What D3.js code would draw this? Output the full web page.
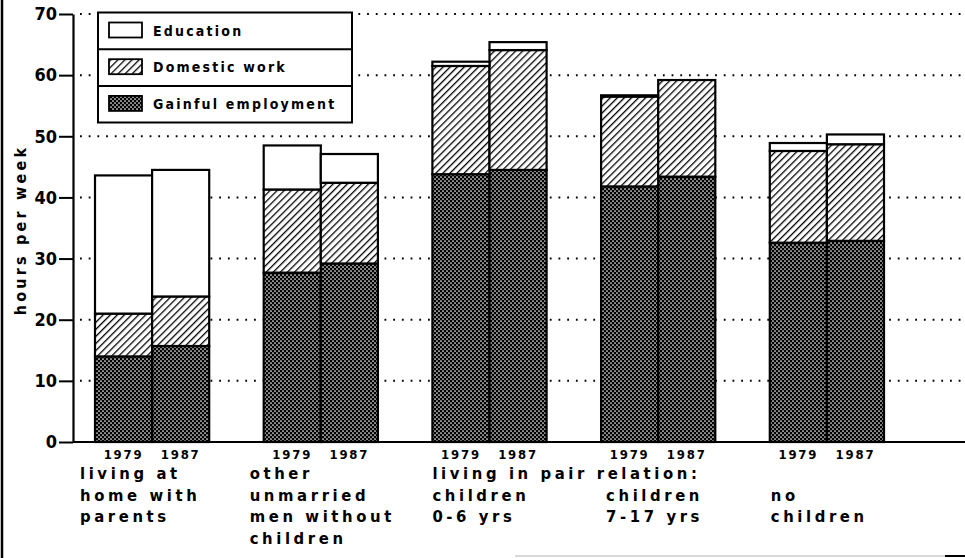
<!DOCTYPE html>
<html>
<head>
<meta charset="utf-8">
<script src="https://cdn.jsdelivr.net/npm/d3@7"></script>
<style>
  body { margin: 0; background: #fff; }
  svg text { font-family: "DejaVu Sans Condensed", "DejaVu Sans", sans-serif; font-weight: bold; fill: #000; }
</style>
</head>
<body>
<svg id="chart" width="965" height="558"></svg>
<script>
// data (hours per week)
const groups = ["home", "unmarried", "pair06", "pair717", "pairNone"];
const years = ["1979", "1987"];
const series = ["Gainful employment", "Domestic work", "Education"];

const gainful = [[14.0, 15.7], [27.7, 29.2], [43.8, 44.5], [41.8, 43.4], [32.6, 32.9]];
const domestic = [[7.0, 8.1], [13.6, 13.2], [17.7, 19.6], [14.7, 15.8], [15.0, 15.8]];
const education = [[22.6, 20.7], [7.2, 4.7], [0.7, 1.3], [0.2, 0.0], [1.3, 1.6]];

const groupLabels = [
  ["living at", "home with", "parents"],
  ["other", "unmarried", "men without", "children"],
  ["living in pair relation:", "children", "0-6 yrs"],
  ["", "children", "7-17 yrs"],
  ["", "no", "children"]
];
const yTicks = [0, 10, 20, 30, 40, 50, 60, 70];

const svg = d3.select("#chart");
const W = 965, H = 558;

// patterns
const defs = svg.append("defs");
const hatch = defs.append("pattern")
  .attr("id", "hatch").attr("patternUnits", "userSpaceOnUse")
  .attr("width", 5).attr("height", 5)
  .attr("patternTransform", "rotate(45)");
hatch.append("rect").attr("width", 5).attr("height", 5).attr("fill", "#fff");
hatch.append("line").attr("x1", 0).attr("y1", 0).attr("x2", 0).attr("y2", 5)
  .attr("stroke", "#000").attr("stroke-width", 2.6);

const cross = defs.append("pattern")
  .attr("id", "cross").attr("patternUnits", "userSpaceOnUse")
  .attr("width", 4).attr("height", 4);
cross.append("rect").attr("width", 4).attr("height", 4).attr("fill", "#000");
cross.append("circle").attr("cx", 1).attr("cy", 1).attr("r", 0.85).attr("fill", "#fff");
cross.append("circle").attr("cx", 3).attr("cy", 3).attr("r", 0.85).attr("fill", "#fff");

const fills = { "Gainful employment": "url(#cross)", "Domestic work": "url(#hatch)", "Education": "#fff" };

// scales
const y = d3.scaleLinear().domain([0, 70]).range([442, 14]);
const x = d3.scaleBand().domain(groups).range([95, 884]).paddingInner(0.323).paddingOuter(0);
const xYear = d3.scaleBand().domain(years).range([0, x.bandwidth()]).padding(0);

// outer frame bits
svg.append("line").attr("x1", 2).attr("x2", 2).attr("y1", 0).attr("y2", H)
  .attr("stroke", "#000").attr("stroke-width", 2.5);
svg.append("line").attr("x1", 515).attr("x2", 945).attr("y1", 556).attr("y2", 556)
  .attr("stroke", "#ccc").attr("stroke-width", 1.5);
svg.append("line").attr("x1", 945).attr("x2", 965).attr("y1", 556).attr("y2", 556)
  .attr("stroke", "#000").attr("stroke-width", 2);

// dotted grid
svg.append("g").selectAll("line")
  .data(yTicks.filter(d => d > 0))
  .enter().append("line")
  .attr("x1", 80).attr("x2", W)
  .attr("y1", d => y(d)).attr("y2", d => y(d))
  .attr("stroke", "#000").attr("stroke-width", 2)
  .attr("stroke-dasharray", "1.8 6.9");

// stacked bars
const stackData = [];
groups.forEach((g, gi) => {
  years.forEach((yr, yi) => {
    stackData.push({ group: g, year: yr,
      "Gainful employment": gainful[gi][yi],
      "Domestic work": domestic[gi][yi],
      "Education": education[gi][yi] });
  });
});
const stacked = d3.stack().keys(series)(stackData);

const barG = svg.append("g");
stacked.forEach(layer => {
  barG.selectAll(null)
    .data(layer.filter(d => d[1] - d[0] > 0))
    .enter().append("rect")
    .attr("x", d => x(d.data.group) + xYear(d.data.year))
    .attr("width", xYear.bandwidth())
    .attr("y", d => y(d[1]))
    .attr("height", d => y(d[0]) - y(d[1]))
    .attr("fill", fills[layer.key])
    .attr("stroke", "#000")
    .attr("stroke-width", 2.2);
});

// y axis
const yAxis = svg.append("g")
  .attr("transform", "translate(73,0)")
  .call(d3.axisLeft(y).tickValues(yTicks).tickSize(14).tickPadding(2).tickSizeOuter(0));
yAxis.select(".domain").attr("stroke", "#000").attr("stroke-width", 2.2);
yAxis.selectAll(".tick line").attr("stroke", "#000").attr("stroke-width", 2);
yAxis.selectAll(".tick text").attr("font-size", 18).style("font-weight", "bold")
  .attr("font-family", "DejaVu Sans Condensed");

// x baseline
svg.append("line").attr("x1", 73).attr("x2", W).attr("y1", y(0)).attr("y2", y(0))
  .attr("stroke", "#000").attr("stroke-width", 2.2);

// y title
svg.append("text")
  .attr("transform", `translate(26,230) rotate(-90)`)
  .attr("text-anchor", "middle")
  .attr("font-size", 16)
  .attr("letter-spacing", 3.2)
  .text("hours per week");

// year labels
groups.forEach(g => {
  years.forEach(yr => {
    svg.append("text")
      .attr("x", x(g) + xYear(yr) + xYear.bandwidth() / 2)
      .attr("y", 459)
      .attr("text-anchor", "middle")
      .attr("font-size", 13)
      .attr("letter-spacing", 1.8)
      .text(yr);
  });
});

// category labels
const labelShift = [-15, -14, 0, 5, 1];
groups.forEach((g, gi) => {
  const t = svg.append("text")
    .attr("font-size", 16.5)
    .attr("letter-spacing", 3.6);
  groupLabels[gi].forEach((line, li) => {
    t.append("tspan")
      .attr("x", x(g) + labelShift[gi])
      .attr("y", 479 + li * 21.5)
      .text(line);
  });
});

// legend
const lg = svg.append("g");
lg.append("rect").attr("x", 98).attr("y", 12.5).attr("width", 254).attr("height", 110)
  .attr("fill", "#fff").attr("stroke", "#000").attr("stroke-width", 2);
const legendRows = series.slice().reverse();
legendRows.forEach((s, i) => {
  const top = 12.5 + i * 36.7;
  if (i > 0) {
    lg.append("line").attr("x1", 98).attr("x2", 352).attr("y1", top).attr("y2", top)
      .attr("stroke", "#000").attr("stroke-width", 2);
  }
  lg.append("rect").attr("x", 109).attr("y", top + 10).attr("width", 33).attr("height", 15)
    .attr("fill", fills[s]).attr("stroke", "#000").attr("stroke-width", 1.8);
  lg.append("text").attr("x", 153).attr("y", top + 23)
    .attr("font-size", 14).attr("letter-spacing", 2.2)
    .text(s);
});
</script>
</body>
</html>
